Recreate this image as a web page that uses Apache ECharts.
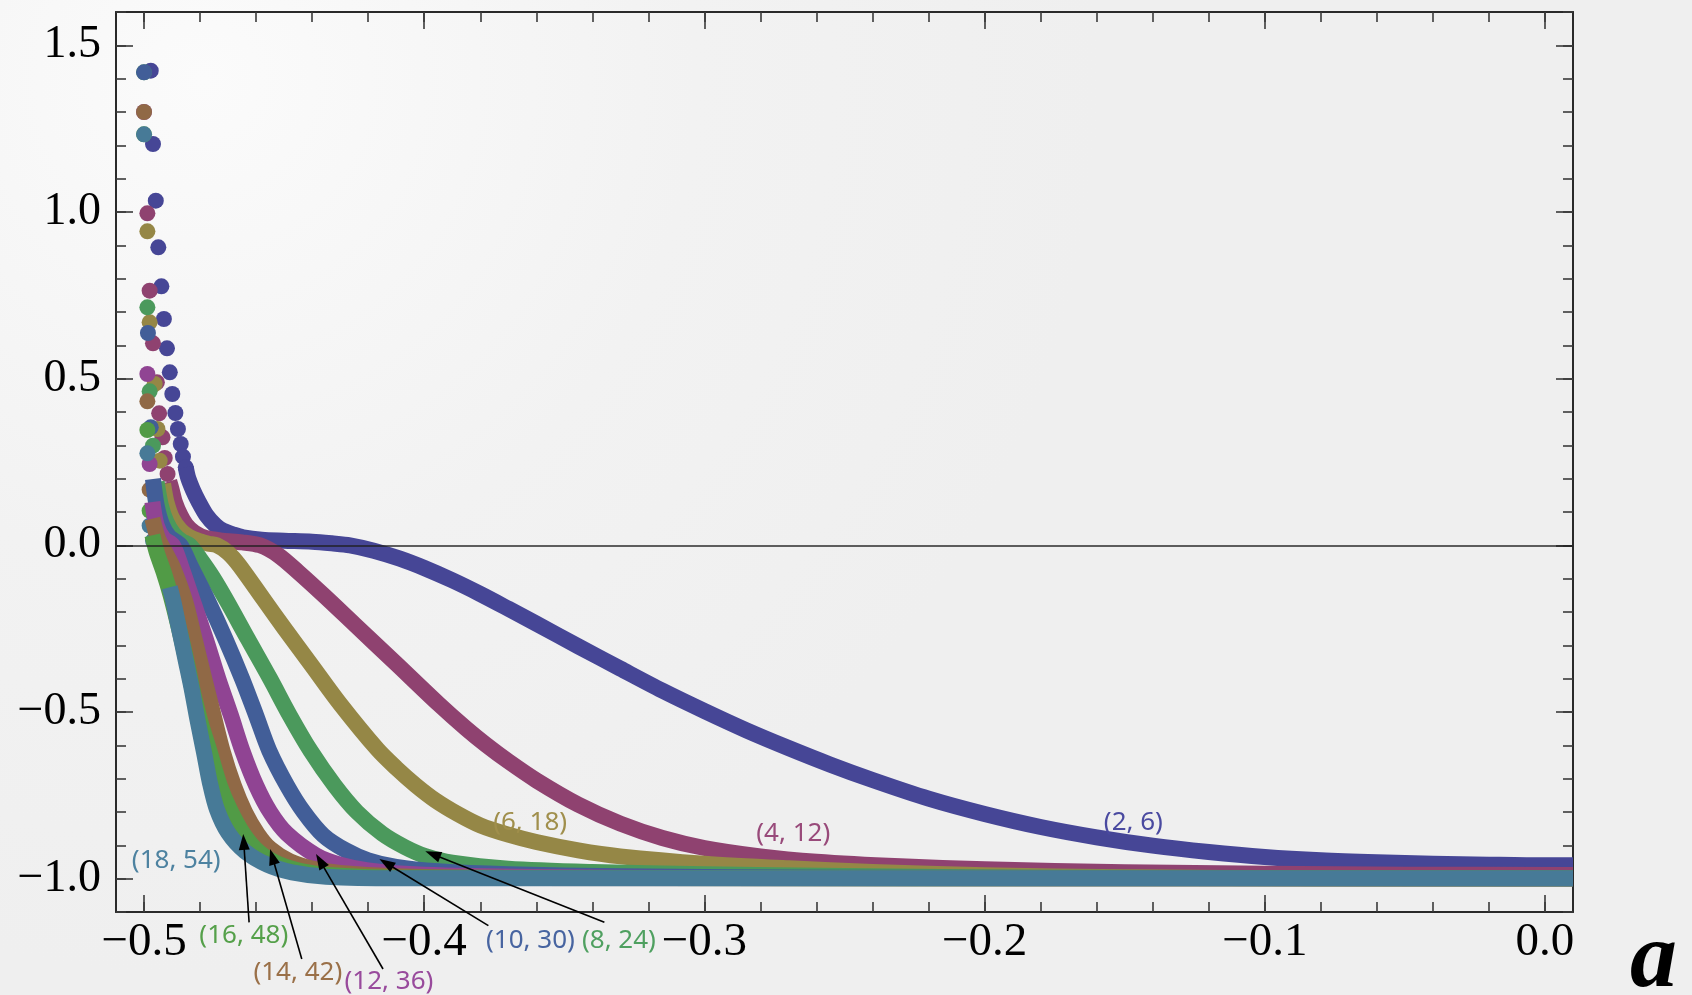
<!DOCTYPE html>
<html>
<head>
<meta charset="utf-8">
<script src="https://cdn.jsdelivr.net/npm/echarts@6/dist/echarts.min.js"></script>
<style>
  html, body { margin: 0; padding: 0; background: #f1f1f1; }
  #chart { width: 1692px; height: 995px; }
</style>
</head>
<body>
<div id="chart"></div>
<script>
// ---------- tick values ----------
const xMajorTicks = [-0.5, -0.4, -0.3, -0.2, -0.1, 0.0];
const xMinorTicks = [-0.5, -0.48, -0.46, -0.44, -0.42, -0.4, -0.38, -0.36, -0.34, -0.32, -0.3, -0.28, -0.26,
  -0.24, -0.22, -0.2, -0.18, -0.16, -0.14, -0.12, -0.1, -0.08, -0.06, -0.04, -0.02, 0.0];
const yMajorTicks = [-1.0, -0.5, 0.0, 0.5, 1.0, 1.5];
const yMinorTicks = [-1.1, -1.0, -0.9, -0.8, -0.7, -0.6, -0.5, -0.4, -0.3, -0.2, -0.1, 0.0, 0.1, 0.2, 0.3, 0.4,
  0.5, 0.6, 0.7, 0.8, 0.9, 1.0, 1.1, 1.2, 1.3, 1.4, 1.5, 1.6];

// ---------- series names ----------
const seriesNames = ['(2, 6)', '(4, 12)', '(6, 18)', '(8, 24)', '(10, 30)', '(12, 36)', '(14, 42)', '(16, 48)', '(18, 54)'];

// ---------- (2, 6) ----------
const dots2 = [[-0.4976,1.424],[-0.4968,1.204],[-0.4958,1.034],[-0.4949,0.894],[-0.4938,0.777],[-0.4929,0.679],
  [-0.4918,0.591],[-0.4908,0.519],[-0.4899,0.454],[-0.4888,0.397],[-0.4879,0.349],[-0.4869,0.304],[-0.4861,0.266],
  [-0.4851,0.234]];
const band2 = [[-0.4851,0.234],[-0.4843,0.204],[-0.4825,0.165],[-0.4807,0.134],[-0.4777,0.090],[-0.4745,0.060],
  [-0.4718,0.044],[-0.4680,0.032],[-0.4646,0.024],[-0.4580,0.017],[-0.4500,0.014],[-0.4400,0.011],[-0.4330,0.006],
  [-0.4265,0.000],[-0.4180,-0.016],[-0.4087,-0.040],[-0.4000,-0.068],[-0.3900,-0.105],[-0.3800,-0.146],
  [-0.3700,-0.190],[-0.3600,-0.235],[-0.3450,-0.303],[-0.3300,-0.370],[-0.3150,-0.436],[-0.3000,-0.497],
  [-0.2850,-0.555],[-0.2700,-0.608],[-0.2550,-0.658],[-0.2400,-0.704],[-0.2200,-0.760],[-0.2000,-0.806],
  [-0.1800,-0.845],[-0.1600,-0.876],[-0.1400,-0.901],[-0.1200,-0.920],[-0.1000,-0.935],[-0.0800,-0.945],
  [-0.0600,-0.951],[-0.0400,-0.955],[-0.0200,-0.958],[0.0000,-0.960],[0.0100,-0.960]];

// ---------- (4, 12) ----------
const dots4 = [[-0.4988,0.996],[-0.4980,0.764],[-0.4968,0.606],[-0.4954,0.489],[-0.4946,0.396],[-0.4934,0.324],
  [-0.4926,0.262],[-0.4916,0.214]];
const band4 = [[-0.4910,0.192],[-0.4902,0.169],[-0.4890,0.130],[-0.4870,0.090],[-0.4850,0.062],[-0.4820,0.038],
  [-0.4780,0.022],[-0.4720,0.014],[-0.4650,0.009],[-0.4586,0.000],[-0.4520,-0.030],[-0.4450,-0.080],
  [-0.4361,-0.148],[-0.4250,-0.236],[-0.4100,-0.355],[-0.3950,-0.475],[-0.3850,-0.550],[-0.3780,-0.598],
  [-0.3700,-0.648],[-0.3600,-0.705],[-0.3450,-0.778],[-0.3300,-0.835],[-0.3150,-0.878],[-0.3000,-0.908],
  [-0.2800,-0.933],[-0.2600,-0.949],[-0.2300,-0.963],[-0.2000,-0.972],[-0.1500,-0.981],[-0.1000,-0.985],
  [-0.0500,-0.988],[0.0100,-0.989]];

// ---------- (6, 18) ----------
const dots6 = [[-0.4988,0.942],[-0.4980,0.669],[-0.4962,0.484],[-0.4952,0.349],[-0.4944,0.254]];
const band6 = [[-0.4932,0.184],[-0.4920,0.130],[-0.4900,0.082],[-0.4870,0.046],[-0.4840,0.026],
  [-0.4800,0.012],[-0.4770,0.005],[-0.4740,0.000],[-0.4700,-0.022],[-0.4660,-0.060],[-0.4575,-0.160],
  [-0.4500,-0.248],[-0.4400,-0.362],[-0.4300,-0.476],[-0.4167,-0.612],[-0.4100,-0.668],[-0.4030,-0.720],
  [-0.3960,-0.765],[-0.3880,-0.806],[-0.3800,-0.840],[-0.3700,-0.868],[-0.3600,-0.890],[-0.3450,-0.915],
  [-0.3300,-0.933],[-0.3000,-0.955],[-0.2700,-0.969],[-0.2400,-0.980],[-0.2000,-0.990],[-0.1500,-0.996],
  [-0.0800,-0.999],[0.0100,-0.999]];

// ---------- (8, 24) ----------
const dots8 = [[-0.5000,1.419],[-0.4988,0.714],[-0.4980,0.462],[-0.4968,0.299]];
const band8 = [[-0.4955,0.190],[-0.4940,0.120],[-0.4920,0.070],[-0.4895,0.035],[-0.4865,0.012],
  [-0.4837,0.000],[-0.4800,-0.040],[-0.4755,-0.095],[-0.4705,-0.166],[-0.4630,-0.280],[-0.4550,-0.400],
  [-0.4480,-0.510],[-0.4406,-0.616],[-0.4320,-0.720],[-0.4240,-0.800],[-0.4150,-0.865],[-0.4070,-0.905],
  [-0.3996,-0.932],[-0.3900,-0.952],[-0.3700,-0.970],[-0.3400,-0.980],[-0.3000,-0.987],[-0.2500,-0.992],
  [-0.1800,-0.997],[0.0100,-0.999]];

// ---------- (10, 30) ----------
const dots10 = [[-0.5000,1.419],[-0.4986,0.637],[-0.4976,0.354]];
const band10 = [[-0.4968,0.199],[-0.4955,0.120],[-0.4935,0.060],[-0.4910,0.025],[-0.4870,0.000],
  [-0.4835,-0.060],[-0.4772,-0.166],[-0.4710,-0.280],[-0.4650,-0.400],[-0.4600,-0.510],[-0.4553,-0.616],
  [-0.4490,-0.720],[-0.4430,-0.800],[-0.4360,-0.870],[-0.4280,-0.915],[-0.4200,-0.945],[-0.4100,-0.965],
  [-0.3950,-0.978],[-0.3700,-0.987],[-0.3300,-0.993],[-0.2500,-0.997],[0.0100,-0.999]];

// ---------- (12, 36) ----------
const dots12 = [[-0.5000,1.300],[-0.4988,0.514],[-0.4980,0.244]];
const band12 = [[-0.4970,0.130],[-0.4955,0.060],[-0.4930,0.020],[-0.4897,0.000],[-0.4865,-0.070],
  [-0.4826,-0.166],[-0.4780,-0.280],[-0.4735,-0.400],[-0.4690,-0.510],[-0.4649,-0.616],[-0.4600,-0.720],
  [-0.4550,-0.800],[-0.4490,-0.865],[-0.4386,-0.930],[-0.4300,-0.958],[-0.4200,-0.975],[-0.4000,-0.988],
  [-0.3600,-0.995],[-0.3000,-0.998],[0.0100,-0.999]];

// ---------- (14, 42) ----------
const dots14 = [[-0.5000,1.300],[-0.4988,0.432],[-0.4980,0.167]];
const band14 = [[-0.4970,0.080],[-0.4950,0.020],[-0.4925,-0.020],[-0.4895,-0.070],[-0.4854,-0.166],
  [-0.4820,-0.280],[-0.4785,-0.400],[-0.4752,-0.510],[-0.4720,-0.616],[-0.4680,-0.720],[-0.4640,-0.800],
  [-0.4595,-0.865],[-0.4550,-0.910],[-0.4480,-0.948],[-0.4400,-0.970],[-0.4300,-0.983],[-0.4100,-0.993],
  [-0.3700,-0.998],[0.0100,-0.999]];

// ---------- (16, 48) ----------
const dots16 = [[-0.5000,1.233],[-0.4988,0.346],[-0.4980,0.104]];
const band16 = [[-0.4970,0.030],[-0.4955,-0.020],[-0.4930,-0.080],[-0.4905,-0.150],[-0.4875,-0.250],
  [-0.4845,-0.360],[-0.4820,-0.460],[-0.4795,-0.540],[-0.4767,-0.616],[-0.4730,-0.720],[-0.4695,-0.790],
  [-0.4646,-0.865],[-0.4590,-0.920],[-0.4520,-0.956],[-0.4440,-0.977],[-0.4330,-0.990],[-0.4100,-0.997],
  [0.0100,-0.999]];

// ---------- (18, 54) ----------
const dots18 = [[-0.5000,1.233],[-0.4988,0.276],[-0.4980,0.059],[-0.4968,0.014],[-0.4933,-0.041],
  [-0.4920,-0.078],[-0.4908,-0.126]];
const band18 = [[-0.4908,-0.126],[-0.4896,-0.166],[-0.4885,-0.210],[-0.4870,-0.270],[-0.4850,-0.350],
  [-0.4830,-0.430],[-0.4810,-0.520],[-0.4785,-0.625],[-0.4765,-0.712],[-0.4740,-0.792],[-0.4700,-0.862],
  [-0.4640,-0.918],[-0.4560,-0.958],[-0.4472,-0.981],[-0.4350,-0.994],[-0.4100,-0.999],[0.0100,-0.999]];

const seriesDots = [dots2, dots4, dots6, dots8, dots10, dots12, dots14, dots16, dots18];
const seriesBands = [band2, band4, band6, band8, band10, band12, band14, band16, band18];

// ---------- annotation anchors (data coordinates) ----------
// [labelA, labelY, [arrowFromA, arrowFromY, arrowToA, arrowToY] | null]
const annotations = [
  [-0.1469, -0.832, null],
  [-0.2683, -0.865, null],
  [-0.3622, -0.832, null],
  [-0.3305, -1.186, [-0.3357, -1.131, -0.3996, -0.918]],
  [-0.3621, -1.186, [-0.3771, -1.141, -0.4160, -0.941]],
  [-0.4126, -1.309, [-0.4147, -1.271, -0.4386, -0.926]],
  [-0.4451, -1.282, [-0.4437, -1.241, -0.4550, -0.911]],
  [-0.4644, -1.171, [-0.4625, -1.131, -0.4646, -0.866]],
  [-0.4885, -0.946, null]
];

const colors = ['#464696', '#8f4270', '#958746', '#4b995c', '#425e98', '#904493', '#906946', '#519b46', '#477a97'];
const labelColors = ['#4a4aa0', '#984a7a', '#a08f4c', '#4fa060', '#4764a0', '#984a9c', '#9a7048', '#55a04a', '#4d82a0'];

const chart = echarts.init(document.getElementById('chart'), null, { renderer: 'canvas' });

const fmt = v => {
  const r = Math.round(v * 10) / 10;
  return (r < 0 ? '\u2212' : '') + Math.abs(r).toFixed(1);
};

const AXIS_COLOR = '#2a2a2a';
function mkX(position, ticks, len, withLabel, showLine) {
  return {
    type: 'value', min: -0.51, max: 0.01, position: position, gridIndex: 0,
    axisLine: { show: showLine, onZero: false, lineStyle: { color: AXIS_COLOR, width: 2 } },
    axisTick: { show: true, inside: true, length: len, customValues: ticks, lineStyle: { color: '#3a3a3a', width: 1.6 } },
    axisLabel: withLabel ? { show: true, customValues: xMajorTicks, formatter: fmt, color: '#000',
      fontFamily: '"Liberation Serif", "DejaVu Serif", serif', fontSize: 47, margin: 7 } : { show: false },
    splitLine: { show: false }, minorTick: { show: false }
  };
}
function mkY(position, ticks, len, withLabel, showLine) {
  return {
    type: 'value', min: -1.1, max: 1.6, position: position, gridIndex: 0,
    axisLine: { show: showLine, onZero: false, lineStyle: { color: AXIS_COLOR, width: 2 } },
    axisTick: { show: true, inside: true, length: len, customValues: ticks, lineStyle: { color: '#3a3a3a', width: 1.6 } },
    axisLabel: withLabel ? { show: true, customValues: yMajorTicks, formatter: fmt, color: '#000',
      fontFamily: '"Liberation Serif", "DejaVu Serif", serif', fontSize: 46, margin: 15, padding: [0, 0, 10, 0] } : { show: false },
    splitLine: { show: false }, minorTick: { show: false }
  };
}

const series = [];
for (let i = 0; i < seriesNames.length; i++) {
  series.push({
    name: seriesNames[i] + ' band', type: 'line', data: seriesBands[i], xAxisIndex: 0, yAxisIndex: 0,
    symbol: 'none', showSymbol: false, smooth: 0.3, clip: true,
    lineStyle: { color: colors[i], width: 16, cap: 'butt', join: 'round' },
    itemStyle: { color: colors[i] }, animation: false, silent: true
  });
  series.push({
    name: seriesNames[i] + ' dots', type: 'scatter', data: seriesDots[i], xAxisIndex: 0, yAxisIndex: 0,
    symbol: 'circle', symbolSize: 16, clip: true,
    itemStyle: { color: colors[i], opacity: 1 }, animation: false, silent: true
  });
}
// zero reference line on top
series.push({
  name: 'zero', type: 'line', data: [], xAxisIndex: 0, yAxisIndex: 0, silent: true, animation: false,
  markLine: {
    silent: true, symbol: ['none', 'none'], animation: false, label: { show: false },
    lineStyle: { color: 'rgba(30,30,30,0.7)', width: 2, type: 'solid' },
    data: [{ yAxis: 0 }]
  }
});

chart.setOption({
  animation: false,
  backgroundColor: {
    type: 'radial', x: 0.12, y: 0.08, r: 0.9,
    colorStops: [{ offset: 0, color: '#fbfbfb' }, { offset: 0.55, color: '#f2f2f2' }, { offset: 1, color: '#efefef' }]
  },
  grid: { left: 116, top: 12, width: 1457, height: 900, containLabel: false },
  xAxis: [
    mkX('bottom', xMajorTicks, 17, true, true),
    mkX('bottom', xMinorTicks, 10, false, false),
    mkX('top', xMajorTicks, 17, false, true),
    mkX('top', xMinorTicks, 10, false, false)
  ],
  yAxis: [
    mkY('left', yMajorTicks, 17, true, true),
    mkY('left', yMinorTicks, 10, false, false),
    mkY('right', yMajorTicks, 17, false, true),
    mkY('right', yMinorTicks, 10, false, false)
  ],
  series: series
});

// ---------- annotations (labels + arrows) ----------
const graphics = [];
annotations.forEach((ann, i) => {
  const p = chart.convertToPixel({ gridIndex: 0 }, [ann[0], ann[1]]);
  graphics.push({
    type: 'text', x: p[0], y: p[1], silent: true, z: 100,
    style: { text: seriesNames[i], fill: labelColors[i], font: '26px "Noto Sans", "Open Sans", sans-serif',
      align: 'center', verticalAlign: 'middle' }
  });
  if (ann[2]) {
    const f = chart.convertToPixel({ gridIndex: 0 }, [ann[2][0], ann[2][1]]);
    const t = chart.convertToPixel({ gridIndex: 0 }, [ann[2][2], ann[2][3]]);
    const dx = t[0] - f[0], dy = t[1] - f[1];
    const L = Math.sqrt(dx * dx + dy * dy);
    const ux = dx / L, uy = dy / L;
    const headLen = 16, headW = 5.5;
    const bx = t[0] - ux * headLen, by = t[1] - uy * headLen;
    graphics.push({
      type: 'line', silent: true, z: 100,
      shape: { x1: f[0], y1: f[1], x2: bx + ux * 2, y2: by + uy * 2 },
      style: { stroke: '#000', lineWidth: 1.6 }
    });
    graphics.push({
      type: 'polygon', silent: true, z: 100,
      shape: { points: [[t[0], t[1]], [bx - uy * headW, by + ux * headW], [bx + uy * headW, by - ux * headW]] },
      style: { fill: '#000' }
    });
  }
});
// axis variable name
graphics.push({
  type: 'text', x: 1630, y: 962, silent: true, z: 100,
  style: { text: 'a', fill: '#000', font: 'italic bold 94px "Liberation Serif", "DejaVu Serif", serif',
    align: 'left', verticalAlign: 'middle' }
});
chart.setOption({ graphic: graphics });
</script>
</body>
</html>
